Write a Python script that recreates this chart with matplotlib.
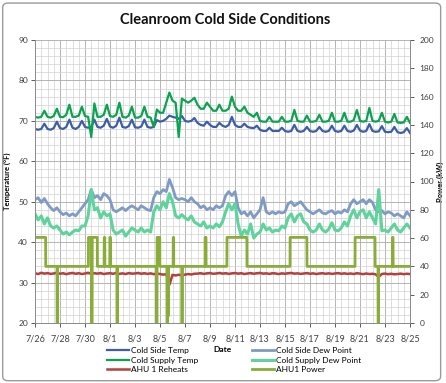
import numpy as np
import matplotlib
matplotlib.use("Agg")
import matplotlib.pyplot as plt
from matplotlib.patches import FancyBboxPatch
from matplotlib.ticker import MultipleLocator

plt.rcParams["font.family"] = ["Lato", "DejaVu Sans"]

# ------------------------------------------------------------
# Data, 6-hourly from 7/26 00:00
# one row per day: 00h, 06h, 12h, 18h
# ------------------------------------------------------------
tick_labels = ["7/26", "7/28", "7/30", "8/1", "8/3", "8/5", "8/7", "8/9",
               "8/11", "8/13", "8/15", "8/17", "8/19", "8/21", "8/23", "8/25"]

cold_side_temp = [
    68.0, 67.8, 68.0, 69.3,   68.0, 67.8, 68.2, 69.8,   68.2, 68.0, 68.5, 70.3,
    68.3, 68.0, 68.5, 70.0,   68.5, 68.3, 68.5, 70.3,   68.5, 68.3, 68.8, 70.5,
    68.6, 68.3, 68.8, 70.8,   68.5, 68.3, 68.7, 70.3,   68.4, 68.3, 68.6, 70.3,
    68.5, 68.3, 68.5, 70.2,   69.8, 70.0, 70.5, 71.3,   71.0, 70.8, 70.5, 71.2,
    70.0, 69.8, 70.0, 70.7,   69.5, 69.0, 68.8, 69.8,   69.0, 68.5, 68.5, 69.5,
    68.8, 68.5, 69.0, 71.0,   69.0, 68.5, 68.5, 69.3,   68.5, 68.3, 68.2, 68.8,
    67.8, 67.5, 67.5, 68.3,   67.5, 67.5, 67.5, 68.3,   67.5, 67.3, 67.5, 69.0,
    67.5, 67.3, 67.5, 68.5,   67.5, 67.3, 67.5, 68.5,   67.5, 67.3, 67.5, 68.8,
    67.5, 67.3, 67.5, 68.8,   67.5, 67.3, 67.6, 69.0,   67.6, 67.3, 67.5, 69.2,
    67.5, 67.3, 67.4, 68.7,   67.3, 67.2, 67.3, 68.5,   67.2, 67.0, 67.2, 68.2,
    67.0,
]

cold_side_dew = [
    50.5, 51.0, 49.8, 50.8,   49.5, 48.5, 47.8, 48.5,   47.5, 46.8, 47.2, 46.5,
    47.0, 46.5, 47.5, 48.5,   49.5, 50.5, 53.0, 51.0,   51.5, 50.5, 52.0, 51.5,
    50.5, 48.0, 47.5, 48.0,   48.5, 47.8, 48.5, 49.0,   48.5, 48.0, 49.0, 48.5,
    48.0, 47.8, 51.0, 52.5,   52.0, 53.0, 52.5, 55.5,   53.5, 51.0, 50.5, 50.8,
    50.5, 50.0, 51.0, 50.0,   49.5, 48.5, 49.0, 48.0,   48.5, 48.0, 49.0, 48.5,
    49.0, 51.5, 52.5, 51.5,   52.5, 48.5, 47.0, 47.5,   46.5, 47.5, 46.0, 47.0,
    48.0, 51.0, 47.5, 47.0,   47.5, 47.0, 47.5, 47.2,   47.5, 49.5, 50.0, 49.0,
    49.5, 50.0, 49.0, 48.0,   47.5, 47.0, 47.5, 48.0,   47.2, 47.0, 47.5, 47.8,
    47.0, 47.5, 47.2, 48.0,   47.5, 49.5, 50.5, 49.5,   50.0, 50.5, 49.5, 50.5,
    49.8, 48.0, 47.5, 47.8,   47.0, 47.5, 47.2, 46.5,   47.0, 46.5, 46.0, 47.5,
    46.5,
]

cold_supply_temp = [
    71.0, 70.8, 71.0, 72.5,   71.0, 70.8, 71.2, 73.0,   71.0, 70.9, 71.5, 74.0,
    71.0, 71.0, 71.3, 73.5,   71.2, 71.0, 66.0, 74.3,   71.0, 71.0, 71.5, 74.0,
    71.2, 71.0, 71.5, 74.5,   71.0, 70.8, 71.3, 73.5,   70.8, 70.8, 71.2, 73.5,
    71.0, 70.8, 68.5, 72.8,   72.0, 72.0, 74.5, 77.0,   75.0, 74.5, 66.0, 75.5,
    75.0, 74.5, 75.0, 75.7,   74.0, 73.0, 73.0, 74.5,   73.5, 72.5, 72.5, 74.0,
    72.5, 72.5, 73.0, 76.0,   73.5, 72.5, 72.5, 73.5,   72.0, 71.5, 71.0, 72.0,
    70.0, 69.8, 69.8, 71.0,   69.8, 69.8, 69.8, 71.0,   69.8, 69.8, 70.0, 72.7,
    70.0, 69.8, 69.8, 71.3,   69.8, 69.8, 70.0, 71.5,   69.8, 69.8, 70.0, 72.0,
    69.8, 69.8, 70.0, 72.0,   69.8, 69.8, 70.2, 72.7,   70.0, 69.8, 70.0, 73.2,
    70.0, 69.8, 70.0, 72.0,   69.8, 69.6, 69.8, 71.7,   69.6, 69.5, 69.6, 71.0,
    69.5,
]

cold_supply_dew = [
    47.0, 45.5, 46.5, 44.5,   46.0, 44.0, 43.5, 44.0,   43.0, 42.0, 42.5, 41.8,
    42.5, 43.0, 42.8, 44.0,   44.0, 46.5, 53.0, 48.0,   48.5, 46.0, 47.5, 46.5,
    47.0, 43.0, 42.0, 42.5,   43.0, 41.5, 42.5, 43.5,   43.0, 42.5, 43.5, 42.5,
    43.0, 42.5, 47.5, 49.0,   48.0, 50.0, 48.5, 52.0,   50.0, 46.5, 46.0, 46.8,
    46.0, 45.5, 46.5, 45.0,   44.5, 44.0, 45.0, 43.5,   44.0, 43.5, 44.5, 43.8,
    45.0, 47.5, 49.5, 48.0,   49.5, 44.5, 41.5, 43.0,   42.0, 44.5, 41.0, 42.0,
    42.5, 44.5, 43.0, 43.5,   42.5, 43.0, 42.8, 44.0,   43.5, 46.0, 47.0, 45.0,
    46.5, 47.0, 45.0, 44.5,   43.0, 42.5, 43.0, 44.5,   43.0, 42.5, 43.2, 44.8,
    43.0, 42.8, 43.5, 45.0,   44.0, 46.5, 48.0, 46.0,   47.5, 48.0, 46.0, 47.5,
    46.0, 44.5, 53.0, 42.8,   43.0, 42.5, 43.5, 44.5,   43.0, 42.5, 43.5, 44.5,
    43.5,
]

# AHU 1 reheats, kW (right axis)
ahu1_reheats = [
    35.2, 34.6, 35.5, 34.9,   35.3, 34.7, 35.0, 35.6,   34.8, 35.2, 34.5, 35.1,
    35.4, 34.8, 35.2, 34.6,   35.0, 35.5, 34.7, 35.2,   34.9, 35.3, 34.6, 35.0,
    35.2, 34.8, 35.4, 34.7,   35.1, 34.6, 35.3, 34.9,   35.0, 35.4, 34.8, 35.2,
    34.7, 35.1, 34.5, 35.0,   34.6, 34.2, 34.5, 27.0,   34.0, 33.6, 34.1, 33.7,
    34.2, 34.6, 34.3, 34.8,   34.9, 35.2, 34.7, 35.1,   35.3, 34.8, 35.0, 35.4,
    34.9, 35.2, 34.7, 35.1,   35.3, 34.9, 35.2, 34.6,   35.0, 35.3, 34.8, 35.2,
    35.4, 34.9, 35.1, 34.7,   35.2, 35.0, 34.6, 35.1,   34.8, 35.2, 35.4, 34.9,
    35.1, 34.7, 35.0, 35.3,   34.8, 35.1, 34.6, 35.0,   35.2, 34.8, 35.1, 34.7,
    35.0, 35.3, 34.8, 35.1,   34.7, 35.0, 34.6, 35.2,   34.9, 34.5, 35.0, 34.6,
    34.8, 34.4, 32.5, 34.7,   34.9, 34.5, 34.8, 34.4,   34.6, 34.9, 34.5, 34.8,
    34.6,
]

# AHU1 power, kW (right axis): step changes, day offset from 7/26
power_day = [0.0, 0.85, 0.86, 1.76, 1.77, 1.80, 1.81, 4.27, 4.28, 4.52, 4.53,
             4.57, 4.58, 4.98, 4.99, 5.53, 5.54, 5.58, 5.59, 5.98, 5.99, 6.03,
             6.04, 6.55, 6.56, 6.59, 6.60, 9.72, 9.73, 9.76, 9.77, 9.98, 9.99,
             10.55, 10.56, 10.59, 10.60, 10.63, 10.64, 10.67, 10.68, 11.05,
             11.06, 11.09, 11.10, 11.74, 11.75, 11.78, 11.79, 13.60, 13.61,
             13.68, 13.69, 15.35, 15.36, 16.95, 16.96, 20.40, 20.41, 21.75,
             21.76, 25.60, 25.61, 27.20, 27.21, 27.44, 27.45, 27.48, 27.49,
             28.60, 28.61, 28.64, 28.65, 30.0]
power_kw = [60.5, 60.5, 40, 40, 0, 0, 40, 40, 60.5, 60.5, 0,
            0, 60.5, 60.5, 40, 40, 60.5, 60.5, 40, 40, 60.5, 60.5,
            40, 40, 0, 0, 40, 40, 0, 0, 60.5, 60.5, 40,
            40, 0, 0, 40, 40, 5, 5, 40, 40,
            60.5, 60.5, 40, 40, 0, 0, 40, 40, 60.5,
            60.5, 40, 40, 60.5, 60.5, 40, 40, 60.5, 60.5,
            40, 40, 60.5, 60.5, 40, 40, 0, 0, 40,
            40, 60.5, 60.5, 40, 40]

# ------------------------------------------------------------
# Plot
# ------------------------------------------------------------
days = np.arange(len(cold_side_temp)) / 4.0

fig = plt.figure(figsize=(4.46, 3.83), dpi=100)
ax = fig.add_axes([35 / 446, 1 - 323 / 383, 375 / 446, 283 / 383])
ax2 = ax.twinx()

c_cst = "#3d5ea6"
c_csdp = "#7f9bc4"
c_supt = "#0aa34f"
c_supdp = "#5ed39b"
c_reh = "#b4413d"
c_pow = "#8aac38"

l1, = ax.plot(days, cold_side_temp, color=c_cst, lw=1.6, label="Cold Side Temp")
l2, = ax.plot(days, cold_side_dew, color=c_csdp, lw=2.0, label="Cold Side Dew Point")
l3, = ax.plot(days, cold_supply_temp, color=c_supt, lw=1.6, label="Cold Supply Temp")
l4, = ax.plot(days, cold_supply_dew, color=c_supdp, lw=2.2, label="Cold Supply Dew Point")
l5, = ax2.plot(days, ahu1_reheats, color=c_reh, lw=1.8, label="AHU 1 Reheats")
l6, = ax2.plot(power_day, power_kw, color=c_pow, lw=2.0, label="AHU1 Power")

ax.set_xlim(0, 30)
ax.set_ylim(20, 90)
ax2.set_ylim(0, 200)

ax.set_xticks(np.arange(0, 31, 2))
ax.set_xticklabels(tick_labels)
ax.xaxis.set_minor_locator(MultipleLocator(0.5))
ax.yaxis.set_major_locator(MultipleLocator(10))
ax.yaxis.set_minor_locator(MultipleLocator(2))
ax2.yaxis.set_major_locator(MultipleLocator(20))

ax.grid(True, which="major", color="#a8a8a8", lw=0.6)
ax.grid(True, which="minor", color="#d2d2d2", lw=0.5)
ax.set_axisbelow(True)

for a in (ax, ax2):
    for s in a.spines.values():
        s.set_color("#8c8c8c")
        s.set_linewidth(0.7)
ax.spines["top"].set_visible(False)
ax2.spines["top"].set_visible(False)

ax.tick_params(axis="both", which="major", labelsize=6, colors="#404040",
               length=3, width=0.6, pad=2)
ax.tick_params(axis="both", which="minor", length=0)
ax2.tick_params(axis="y", labelsize=6, colors="#404040", length=3, width=0.6, pad=4)
ax.tick_params(axis="x", pad=5, labelsize=6.5)

ax.set_ylabel("Temperature (\u00b0F)", fontsize=5.5, fontweight="bold")
ax.yaxis.set_label_coords(-(35 - 11) / 375, 0.5)
ax2.set_ylabel("Power (kW)", fontsize=5.5, fontweight="bold")
ax2.yaxis.set_label_coords((437 - 35) / 375, 0.5)
ax.set_xlabel("Date", fontsize=6, fontweight="bold", labelpad=2)

fig.text(225 / 446, 1 - 20 / 383, "Cleanroom Cold Side Conditions", ha="center",
         va="center", fontsize=10.5, fontweight="bold", color="#111111")

leg_kw = dict(loc="upper left", frameon=False, fontsize=6, handlelength=2.6,
              handletextpad=0.3, labelspacing=0.3, borderpad=0, borderaxespad=0)
fig.legend([l1, l3, l5], [l1.get_label(), l3.get_label(), l5.get_label()],
           bbox_to_anchor=(107 / 446, 1 - 347 / 383), **leg_kw)
fig.legend([l2, l4, l6], [l2.get_label(), l4.get_label(), l6.get_label()],
           bbox_to_anchor=(252 / 446, 1 - 347 / 383), **leg_kw)

fig.patches.append(FancyBboxPatch((0.006, 0.006), 0.982, 0.986,
                                  boxstyle="round,pad=0,rounding_size=0.012",
                                  transform=fig.transFigure, fill=False,
                                  ec="#9a9a9a", lw=1.0))

fig.savefig("out.png", dpi=100)
